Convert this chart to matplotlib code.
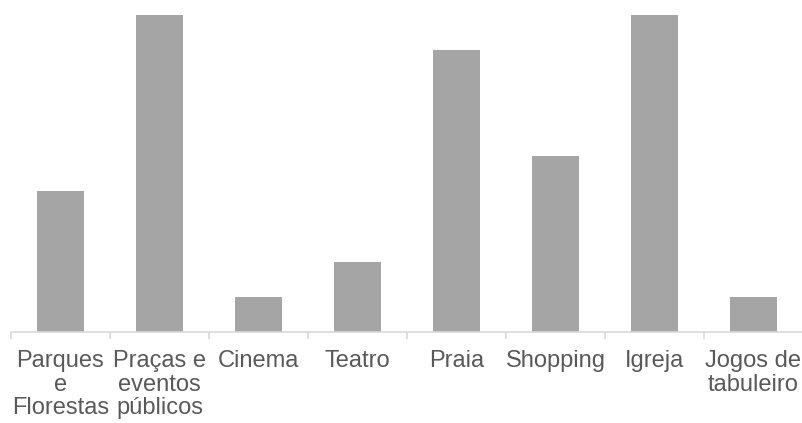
import numpy as np
import matplotlib.pyplot as plt

categories = ["Parques\ne\nFlorestas", "Praças e\neventos\npúblicos", "Cinema", "Teatro",
              "Praia", "Shopping", "Igreja", "Jogos de\ntabuleiro"]
values = [4, 9, 1, 2, 8, 5, 9, 1]

plt.rcParams["font.family"] = ["Liberation Sans", "DejaVu Sans"]

fig = plt.figure(figsize=(8.03, 4.23), dpi=100)
ax = fig.add_axes([11 / 803, 91 / 423, 1 - 11 / 803, (332 - 15) / 423])

x = np.arange(len(categories))
ax.bar(x, values, width=0.47, color="#A5A5A5")

ax.set_xlim(-0.5, len(categories) - 0.5)
ax.set_ylim(0, 9)

for side in ["top", "right", "left"]:
    ax.spines[side].set_visible(False)
ax.spines["bottom"].set_color("#D9D9D9")
ax.spines["bottom"].set_linewidth(1.2)
ax.set_yticks([])

ax.set_xticks(x)
ax.set_xticklabels(categories, fontsize=17, color="#595959", linespacing=1.1)
ax.tick_params(axis="x", which="major", length=0, pad=13)
ax.set_xticks(np.arange(-0.5, len(categories)), minor=True)
ax.tick_params(axis="x", which="minor", length=5, width=1.2, color="#D9D9D9")

fig.savefig("out.png", dpi=100)
